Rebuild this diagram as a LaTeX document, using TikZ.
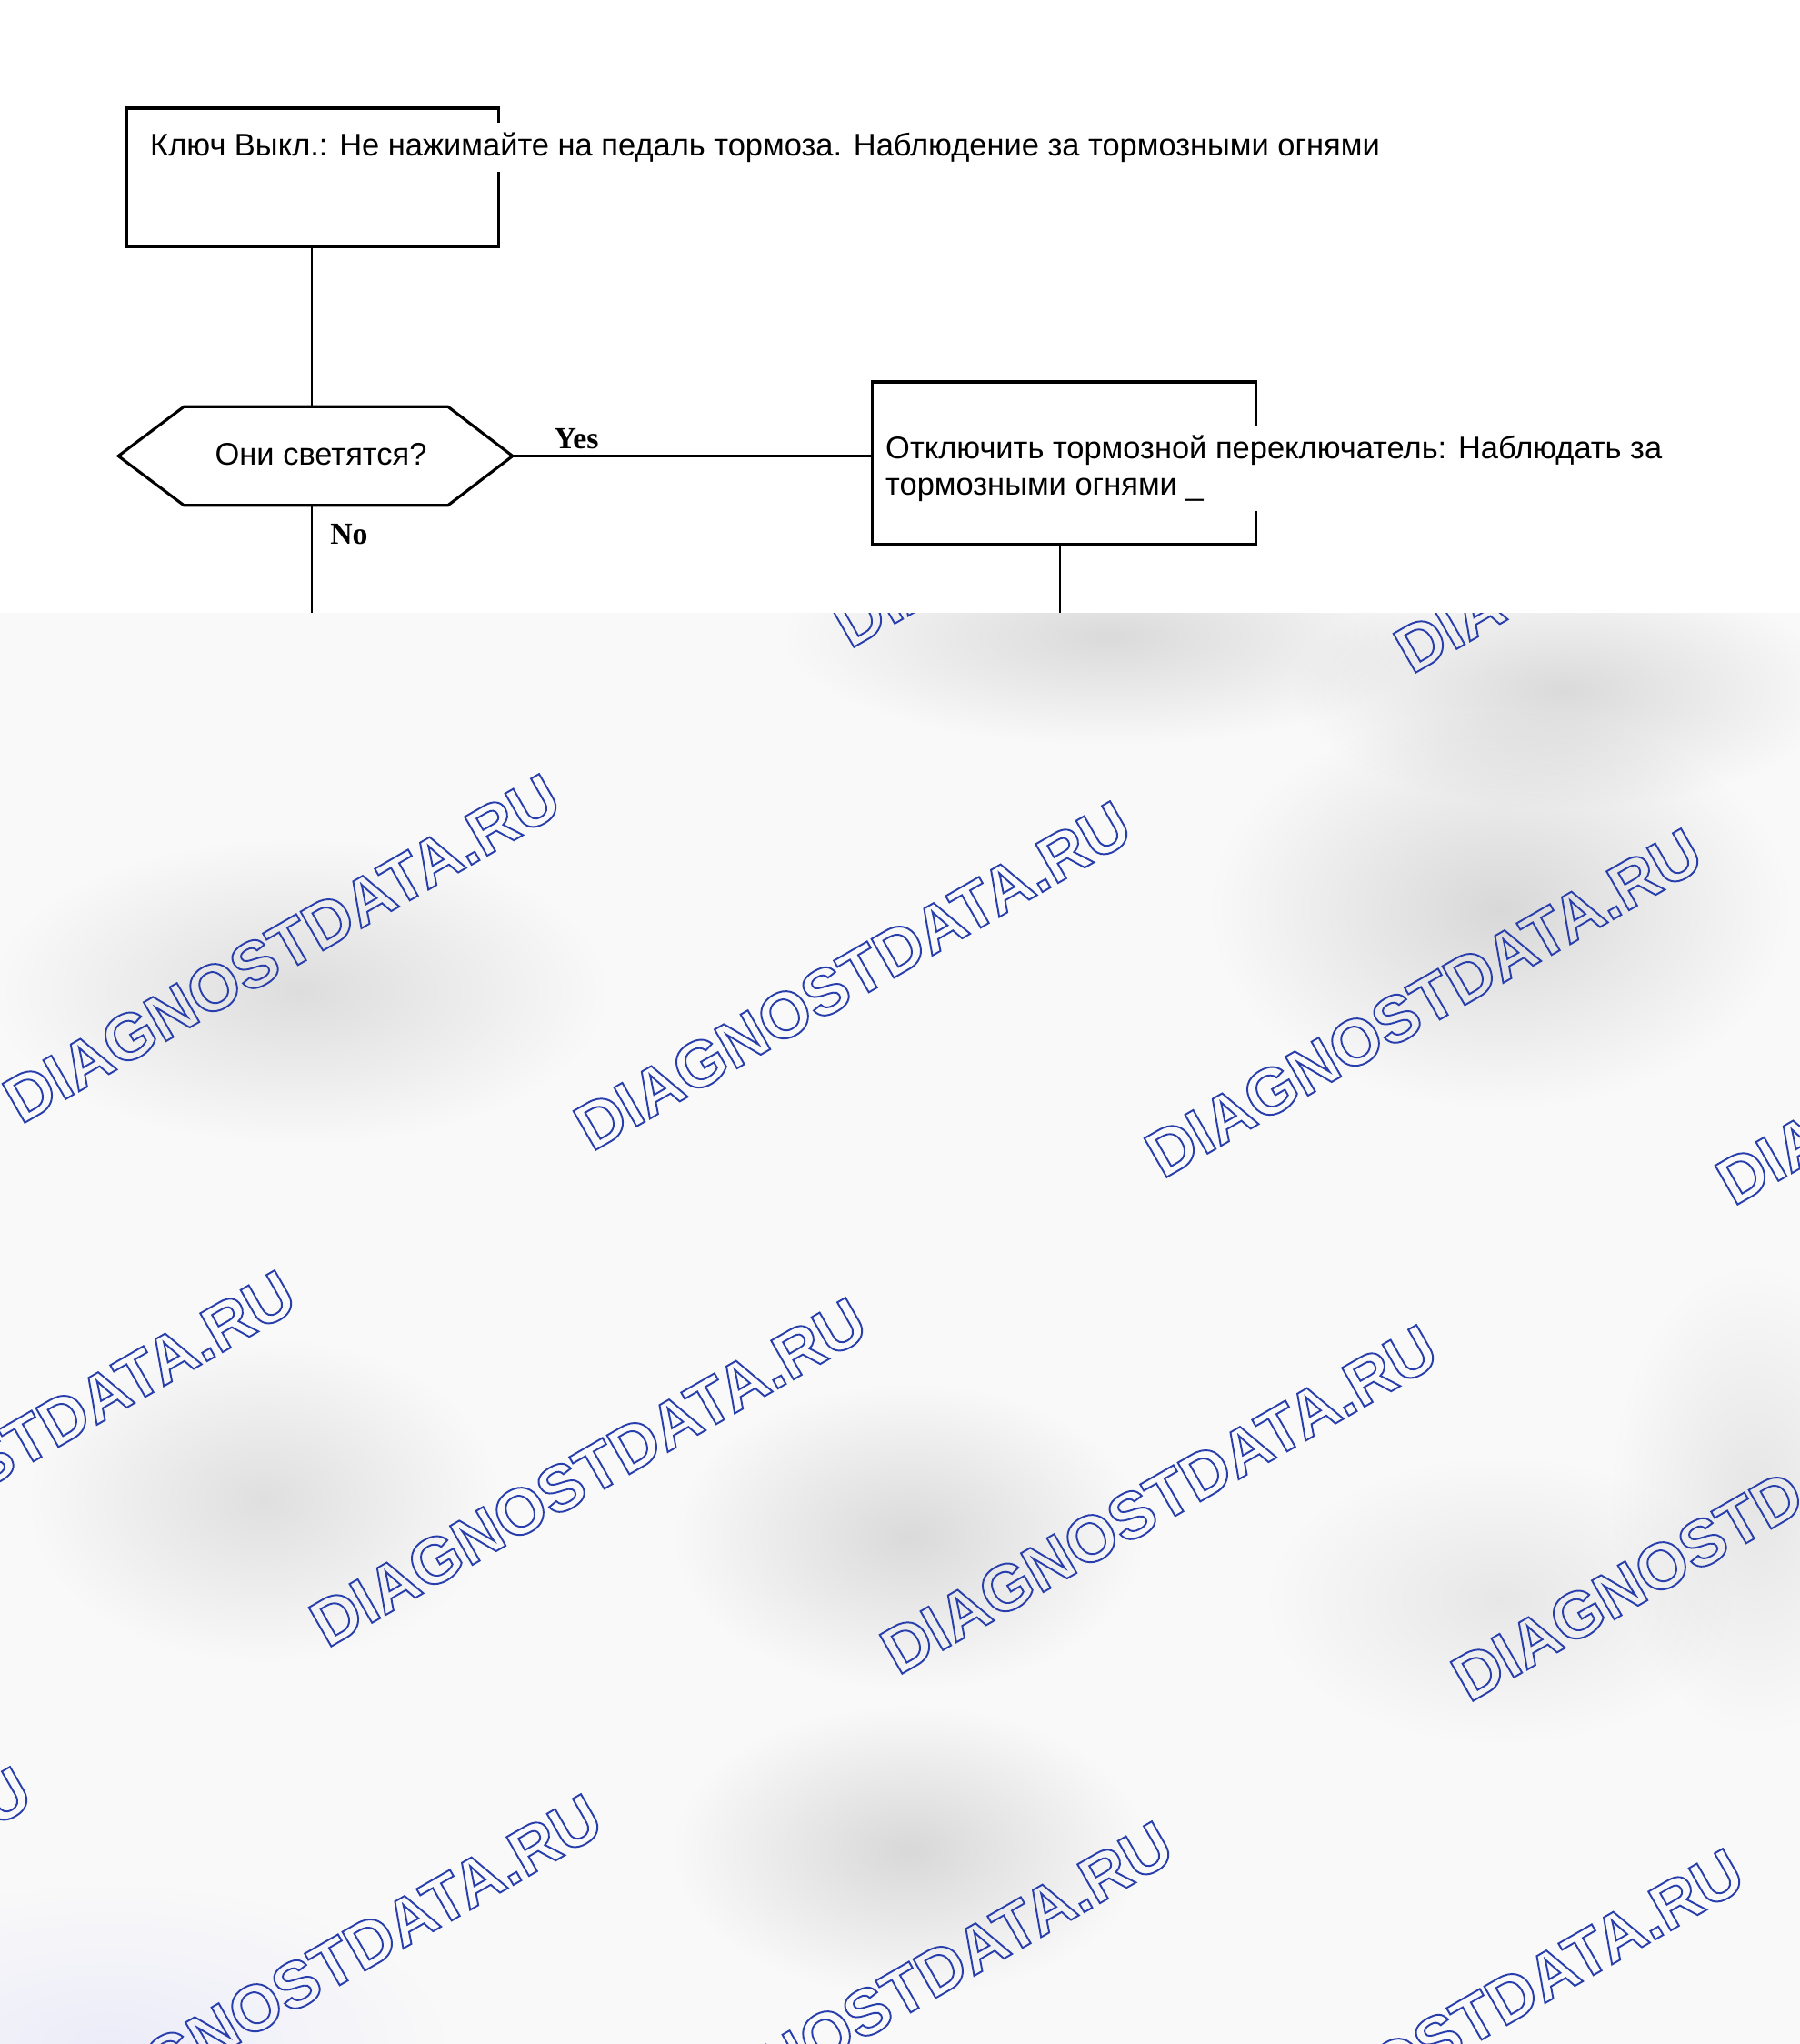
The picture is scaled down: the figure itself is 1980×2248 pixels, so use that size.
\documentclass[tikz,border=0pt]{standalone}
\usepackage{fontspec}
\newfontfamily\arial{Liberation Sans}
\newfontfamily\tms{Liberation Serif}
\usetikzlibrary{fadings}
\definecolor{wmblue}{RGB}{40,62,172}
\definecolor{bgcol}{RGB}{249,249,249}
\tikzfading[name=blobfade, inner color=transparent!0, outer color=transparent!100]
\newcommand{\wmtext}{\special{pdf:literal direct 1 Tr 0.55 w}DIAGNOSTDATA.RU\special{pdf:literal direct 0 Tr}}
\begin{document}
\begin{tikzpicture}[x=0.01cm,y=-0.01cm,
  boxline/.style={draw=black, line width=0.9pt, inner sep=0pt},
  conn/.style={draw=black, line width=0.8pt},
  lbl/.style={font=\arial\fontsize{9.8pt}{11.1pt}\selectfont, fill=white, inner xsep=1pt, inner ysep=3pt},
  lbltwo/.style={font=\arial\fontsize{9.8pt}{11.1pt}\selectfont, fill=white, inner xsep=1pt, inner ysep=3pt, align=left},
  qtext/.style={font=\arial\fontsize{9.8pt}{11pt}\selectfont, inner sep=0pt},
  yn/.style={font=\tms\bfseries\fontsize{9.6pt}{11pt}\selectfont, inner sep=0pt},
  wm/.style={rotate=30, text=wmblue, inner sep=0pt, font=\arial\bfseries\fontsize{20.4pt}{22pt}\selectfont},
  blob/.style={fill=black, path fading=blobfade}
]
\useasboundingbox (0,0) rectangle (1980,2248);
\fill[white] (0,0) rectangle (1980,2248);
% flowchart
\node[boxline, minimum width=4.08cm, minimum height=1.52cm] (b1) at (344,195) {};
\node[lbl, anchor=base west] (t1) at (161,171) {Ключ Выкл.: Не нажимайте на педаль тормоза. Наблюдение за тормозными огнями};
\node[minimum width=4.32cm, minimum height=1.07cm, inner sep=0pt] (hx) at (347,501.5) {};
\draw[line width=0.9pt, line join=miter] (hx.west) -- ([xshift=0.72cm]hx.north west) -- ([xshift=-0.71cm]hx.north east) -- (hx.east) -- ([xshift=-0.71cm]hx.south east) -- ([xshift=0.72cm]hx.south west) -- cycle;
\node[qtext] (q) at (353,500) {Они светятся?};
\node[boxline, minimum width=4.21cm, minimum height=1.79cm] (b2) at (1170.5,509.5) {};
\node[lbltwo, anchor=base west] (t2) at (970,544) {Отключить тормозной переключатель: Наблюдать за\\тормозными огнями \_};
\coordinate (e1) at (343,674);
\coordinate (e2) at (1166,674);
\draw[conn] (b1.south -| e1) -- (hx.north -| e1);
\draw[conn] (hx.east) -- (hx.east -| b2.west);
\draw[conn] (hx.south -| e1) -- (e1);
\draw[conn] (b2.south -| e2) -- (e2);
\node[yn] (yes) at (634,483) {Yes};
\node[yn] (no) at (384,588) {No};
% watermark background
\begin{scope}
\clip (0,674) rectangle (1980,2248);
\fill[bgcol] (0,674) rectangle (1980,2248);
\fill[blob, opacity=0.12] (1220,700) ellipse (360 and 120);
\fill[blob, opacity=0.12] (1720,760) ellipse (300 and 130);
\fill[blob, opacity=0.11] (330,1090) ellipse (340 and 170);
\fill[blob, opacity=0.13] (1650,1000) ellipse (320 and 220);
\fill[blob, opacity=0.12] (1000,1690) ellipse (260 and 170);
\fill[blob, opacity=0.10] (290,1650) ellipse (260 and 180);
\fill[blob, opacity=0.13] (1000,2035) ellipse (260 and 160);
\fill[blob, opacity=0.07] (1650,1760) ellipse (260 and 160);
\fill[blob, opacity=0.08] (1930,1650) ellipse (160 and 260);
\fill[blue, path fading=blobfade, opacity=0.05] (120,2248) ellipse (380 and 180);
\foreach \x/\y [count=\k] in {1222/520,1840/548,310/1043,938/1073,1566/1103,2194/1133,19/1589,647/1619,1275/1649,1903/1679,-272/2135,356/2165,984/2195,1612/2225}
  \node[wm] (w\k) at (\x,\y) {\wmtext};
\end{scope}
\end{tikzpicture}
\end{document}
